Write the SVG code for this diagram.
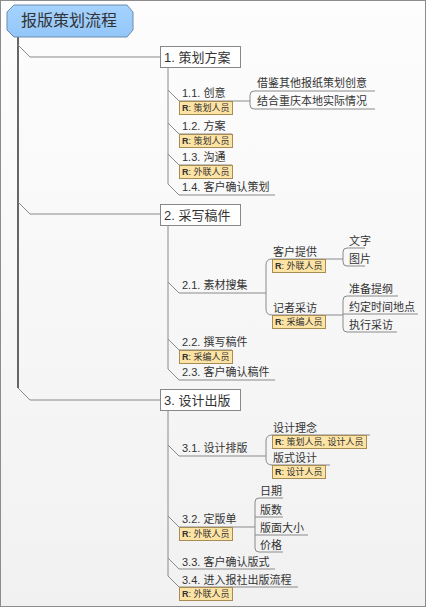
<svg xmlns="http://www.w3.org/2000/svg" width="426" height="607" viewBox="0 0 426 607">
<defs>
<linearGradient id="bg" x1="0" y1="0" x2="0" y2="1"><stop offset="0" stop-color="#fdfdfd"/><stop offset="1" stop-color="#f1f1f1"/></linearGradient>
<linearGradient id="rootg" x1="0" y1="0" x2="0" y2="1"><stop offset="0" stop-color="#a6d3ff"/><stop offset="1" stop-color="#92c6f8"/></linearGradient>
</defs>
<style>
.t{font-family:"Liberation Sans","Noto Sans CJK SC",sans-serif;fill:#333}
.m{font-size:13px}
.s{font-size:11px}
.r{font-size:9px}
.ln{stroke:#8a8a8a;stroke-width:1;fill:none}
.sp{stroke:#666;stroke-width:2;fill:none}
.box{fill:#fff;stroke:#888;stroke-width:1}
.lab{fill:#fde3a4;stroke:#a88c55;stroke-width:1}
</style>
<rect x="0.5" y="0.5" width="425" height="606" fill="url(#bg)" stroke="#8c8c8c"/>

<g id="connectors">
<path class="sp" d="M18,37 V388"/>
<path class="ln" d="M18,45 L30,57 H160 M18,202 L30,214 H160 M18,388 L30,400 H160"/>
<path class="ln" d="M168,67 V184 M168,225 V369 M168,410 V576"/>
<!-- branch 1 -->
<path class="ln" d="M168,90 L179,101 H250 M168,123 L179,134 H232 M168,154 L179,165 H232 M168,184 L179,195 H275"/>
<path class="ln" d="M254,91 Q250,91 250,95 V105 Q250,109 254,109"/>
<path class="ln" d="M254,91 H375 M254,109 H375"/>
<!-- branch 2 -->
<path class="ln" d="M168,282 L179,293 H266 M168,339 L179,350 H232 M168,369 L179,380 H275"/>
<path class="ln" d="M272,259 Q266,259 266,265 V309 Q266,315 272,315"/>
<path class="ln" d="M272,259 H325 M272,315 H325"/>
<path class="ln" d="M325,259 H343 M325,315 H343"/>
<path class="ln" d="M347,248 Q343,248 343,252 V262 Q343,266 347,266"/>
<path class="ln" d="M347,248 H365 M347,266 H365"/>
<path class="ln" d="M347,296 Q343,296 343,300 V328 Q343,332 347,332 M343,314 H418"/>
<path class="ln" d="M347,296 H398 M347,332 H397"/>
<!-- branch 3 -->
<path class="ln" d="M168,445 L179,456 H266 M168,516 L179,527 H255 M168,558 L179,569 H275 M168,576 L179,587 H298"/>
<path class="ln" d="M272,435 Q266,435 266,441 V459 Q266,465 272,465"/>
<path class="ln" d="M272,435 H370 M272,465 H330"/>
<path class="ln" d="M259,498 Q255,498 255,502 V548 Q255,552 259,552 M255,517 H283 M255,535 H308"/>
<path class="ln" d="M259,498 H283 M259,552 H283"/>
</g>

<g id="root">
<path d="M14,5 H127 L133,12 V30 L127,37 H14 L7,30 V12 Z" fill="url(#rootg)" stroke="#6f8cab" stroke-width="1"/>
<text class="t" x="21" y="26" font-size="16px">报版策划流程</text>
</g>

<g id="n1">
<rect class="box" x="160.5" y="46.5" width="80" height="21"/>
<text class="t m" x="164" y="62">1. 策划方案</text>
</g>
<g id="n1-1">
<text class="t s" x="182" y="97">1.1. 创意</text>
<rect class="lab" x="179.5" y="101.5" width="53" height="13"/>
<text class="t r" x="182" y="111"><tspan font-weight="bold">R</tspan>: 策划人员</text>
</g>
<g id="n1-1-1"><text class="t s" x="257" y="87">借鉴其他报纸策划创意</text></g>
<g id="n1-1-2"><text class="t s" x="257" y="105">结合重庆本地实际情况</text></g>
<g id="n1-2">
<text class="t s" x="182" y="130">1.2. 方案</text>
<rect class="lab" x="179.5" y="134.5" width="53" height="13"/>
<text class="t r" x="182" y="144"><tspan font-weight="bold">R</tspan>: 策划人员</text>
</g>
<g id="n1-3">
<text class="t s" x="182" y="161">1.3. 沟通</text>
<rect class="lab" x="179.5" y="165.5" width="53" height="13"/>
<text class="t r" x="182" y="175"><tspan font-weight="bold">R</tspan>: 外联人员</text>
</g>
<g id="n1-4"><text class="t s" x="182" y="191">1.4. 客户确认策划</text></g>

<g id="n2">
<rect class="box" x="160.5" y="204.5" width="80" height="21"/>
<text class="t m" x="164" y="220">2. 采写稿件</text>
</g>
<g id="n2-1"><text class="t s" x="182" y="289">2.1. 素材搜集</text></g>
<g id="n2-1-1">
<text class="t s" x="273" y="256">客户提供</text>
<rect class="lab" x="272.5" y="259.5" width="53" height="13"/>
<text class="t r" x="275" y="269"><tspan font-weight="bold">R</tspan>: 外联人员</text>
</g>
<g id="n2-1-1-1"><text class="t s" x="349" y="245">文字</text></g>
<g id="n2-1-1-2"><text class="t s" x="349" y="263">图片</text></g>
<g id="n2-1-2">
<text class="t s" x="273" y="312">记者采访</text>
<rect class="lab" x="272.5" y="315.5" width="53" height="13"/>
<text class="t r" x="275" y="325"><tspan font-weight="bold">R</tspan>: 采编人员</text>
</g>
<g id="n2-1-2-1"><text class="t s" x="349" y="293">准备提纲</text></g>
<g id="n2-1-2-2"><text class="t s" x="349" y="311">约定时间地点</text></g>
<g id="n2-1-2-3"><text class="t s" x="349" y="329">执行采访</text></g>
<g id="n2-2">
<text class="t s" x="182" y="346">2.2. 撰写稿件</text>
<rect class="lab" x="179.5" y="350.5" width="53" height="13"/>
<text class="t r" x="182" y="360"><tspan font-weight="bold">R</tspan>: 采编人员</text>
</g>
<g id="n2-3"><text class="t s" x="182" y="376">2.3. 客户确认稿件</text></g>

<g id="n3">
<rect class="box" x="160.5" y="389.5" width="80" height="21"/>
<text class="t m" x="164" y="405">3. 设计出版</text>
</g>
<g id="n3-1"><text class="t s" x="182" y="452">3.1. 设计排版</text></g>
<g id="n3-1-1">
<text class="t s" x="273" y="432">设计理念</text>
<rect class="lab" x="272.5" y="435.5" width="94" height="13"/>
<text class="t r" x="275" y="445"><tspan font-weight="bold">R</tspan>: 策划人员, 设计人员</text>
</g>
<g id="n3-1-2">
<text class="t s" x="273" y="462">版式设计</text>
<rect class="lab" x="272.5" y="465.5" width="53" height="13"/>
<text class="t r" x="275" y="475"><tspan font-weight="bold">R</tspan>: 设计人员</text>
</g>
<g id="n3-2">
<text class="t s" x="182" y="523">3.2. 定版单</text>
<rect class="lab" x="179.5" y="527.5" width="53" height="13"/>
<text class="t r" x="182" y="537"><tspan font-weight="bold">R</tspan>: 外联人员</text>
</g>
<g id="n3-2-1"><text class="t s" x="260" y="495">日期</text></g>
<g id="n3-2-2"><text class="t s" x="260" y="514">版数</text></g>
<g id="n3-2-3"><text class="t s" x="260" y="532">版面大小</text></g>
<g id="n3-2-4"><text class="t s" x="260" y="549">价格</text></g>
<g id="n3-3"><text class="t s" x="182" y="566">3.3. 客户确认版式</text></g>
<g id="n3-4">
<text class="t s" x="182" y="584">3.4. 进入报社出版流程</text>
<rect class="lab" x="179.5" y="587.5" width="53" height="13"/>
<text class="t r" x="182" y="597"><tspan font-weight="bold">R</tspan>: 外联人员</text>
</g>
</svg>
